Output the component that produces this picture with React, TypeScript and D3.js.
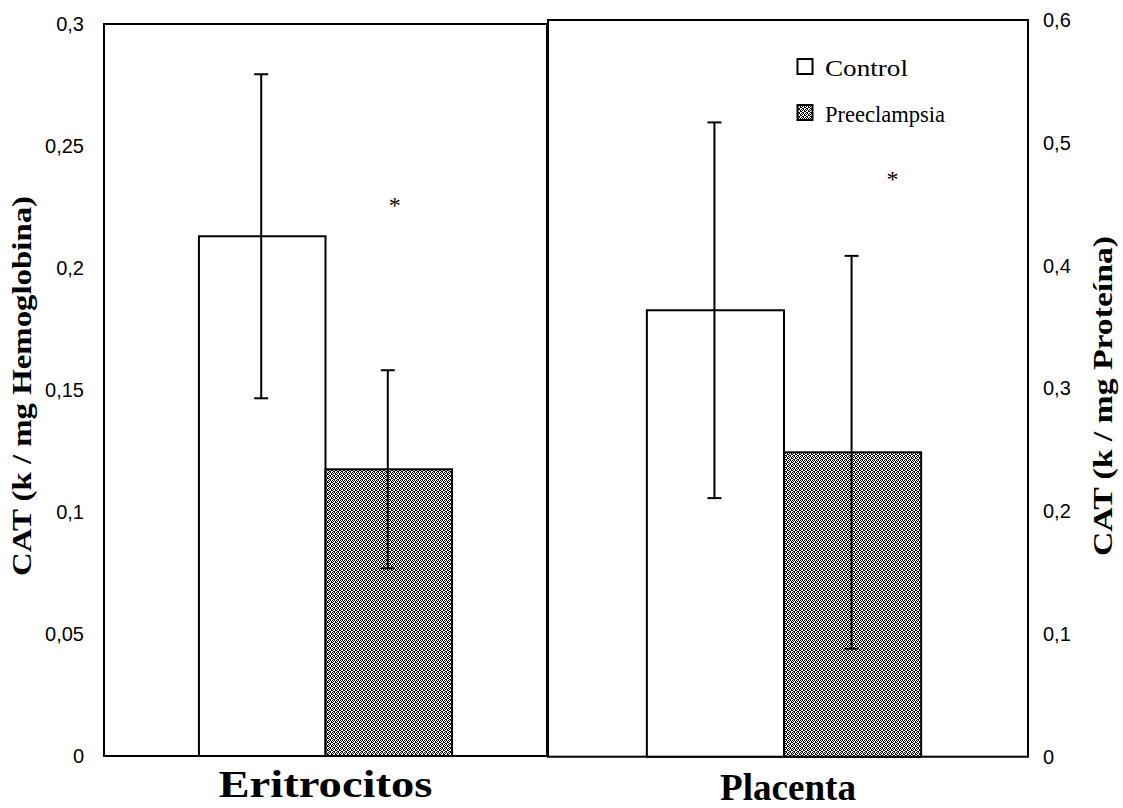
import * as d3 from 'd3';

const groups = ['Control', 'Preeclampsia'];
const panels = ['Eritrocitos', 'Placenta'];
const eritrocitosMeans = [0.213, 0.1175];
const eritrocitosErrors = [0.0664, 0.0406];
const placentaMeans = [0.3636, 0.2479];
const placentaErrors = [0.153, 0.16];
const leftTicks = [0, 0.05, 0.1, 0.15, 0.2, 0.25, 0.3];
const rightTicks = [0, 0.1, 0.2, 0.3, 0.4, 0.5, 0.6];
const asteriskValues = [0.227, 0.4726];

const fmt = (v: number) => String(v).replace('.', ',');
const serif = "'Liberation Serif', 'Times New Roman', serif";
const sans = "'Liberation Sans', Arial, sans-serif";

function Panel(props: any) {
  const { x0, x1, top, bottom, y, means, errors, star, starDx, label, labelY, labelLen, shift } = props;
  const x = d3.scaleBand<string>().domain(groups).range([x0 + shift, x1 + shift]).paddingInner(0).paddingOuter(0.75);
  const bw = x.bandwidth();
  return (
    <g>
      <rect x={x0} y={top} width={x1 - x0} height={bottom - top} fill="#fff" stroke="#000" strokeWidth={2} />
      {groups.map((g, i) => (
        <rect key={g} x={x(g)} y={y(means[i])} width={bw} height={y(0) - y(means[i])}
          fill={i === 0 ? '#fff' : 'url(#hatch)'} stroke="#000" strokeWidth={2} />
      ))}
      {groups.map((g, i) => {
        const cx = (x(g) as number) + bw / 2 - 1;
        const yt = y(means[i] + errors[i]);
        const yb = y(means[i] - errors[i]);
        return (
          <g key={g} stroke="#000" strokeWidth={2}>
            <line x1={cx} x2={cx} y1={yt} y2={yb} />
            <line x1={cx - 7} x2={cx + 7} y1={yt} y2={yt} />
            <line x1={cx - 7} x2={cx + 7} y1={yb} y2={yb} />
          </g>
        );
      })}
      <text x={(x(groups[1]) as number) + bw / 2 + starDx} y={y(star) + 11} textAnchor="middle"
        fontFamily={serif} fontSize={24}>*</text>
      <text x={(x0 + x1) / 2} y={labelY} textAnchor="middle" fontFamily={serif}
        fontWeight="bold" fontSize={38} textLength={labelLen} lengthAdjust="spacingAndGlyphs">{label}</text>
    </g>
  );
}

export default function App() {
  const yLeft = d3.scaleLinear().domain([0, 0.3]).range([756, 24]);
  const yRight = d3.scaleLinear().domain([0, 0.6]).range([756.7, 20]);

  return (
    <svg width={1123} height={808} style={{ position: 'absolute', left: 0, top: 0, display: 'block' }}>
      <defs>
        <pattern id="hatch" patternUnits="userSpaceOnUse" width={4} height={4}>
          <rect width={4} height={4} fill="#fff" />
          <g fill="#000" shapeRendering="crispEdges">
            <rect x={0} y={0} width={1} height={1} />
            <rect x={2} y={0} width={1} height={1} />
            <rect x={1} y={1} width={1} height={1} />
            <rect x={3} y={1} width={1} height={1} />
            <rect x={0} y={2} width={1} height={1} />
            <rect x={3} y={2} width={1} height={1} />
            <rect x={1} y={3} width={1} height={1} />
            <rect x={2} y={3} width={1} height={1} />
          </g>
        </pattern>
      </defs>
      <rect width={1123} height={808} fill="#fff" />

      <Panel x0={104} x1={547} top={24} bottom={756} y={yLeft} means={eritrocitosMeans}
        errors={eritrocitosErrors} star={asteriskValues[0]} starDx={6} label={panels[0]} labelY={797}
        labelLen={214} shift={0} />
      <Panel x0={548} x1={1028} top={20} bottom={756.7} y={yRight} means={placentaMeans}
        errors={placentaErrors} star={asteriskValues[1]} starDx={40} label={panels[1]} labelY={800}
        labelLen={136} shift={-4} />

      {leftTicks.map((t) => (
        <text key={t} x={84} y={yLeft(t) + 7} textAnchor="end" fontFamily={sans} fontSize={20}>{fmt(t)}</text>
      ))}
      {rightTicks.map((t) => (
        <text key={t} x={1043} y={yRight(t) + 7} textAnchor="start" fontFamily={sans} fontSize={20}>{fmt(t)}</text>
      ))}

      <text transform="translate(31,386) rotate(-90)" textAnchor="middle" fontFamily={serif}
        fontWeight="bold" fontSize={28} textLength={380} lengthAdjust="spacingAndGlyphs">CAT (k / mg Hemoglobina)</text>
      <text transform="translate(1112,396) rotate(-90)" textAnchor="middle" fontFamily={serif}
        fontWeight="bold" fontSize={28} textLength={320} lengthAdjust="spacingAndGlyphs">CAT (k / mg Proteína)</text>

      <g fontFamily={serif} fontSize={24}>
        {groups.map((g, i) => (
          <g key={g} transform={`translate(797,${59 + i * 46})`}>
            <rect x={0.5} y={0} width={15} height={15} fill={i === 0 ? '#fff' : 'url(#hatch)'} stroke="#000" strokeWidth={2} />
            <text x={28} y={17} textLength={i === 0 ? 83 : 120} lengthAdjust="spacingAndGlyphs">{g}</text>
          </g>
        ))}
      </g>
    </svg>
  );
}
